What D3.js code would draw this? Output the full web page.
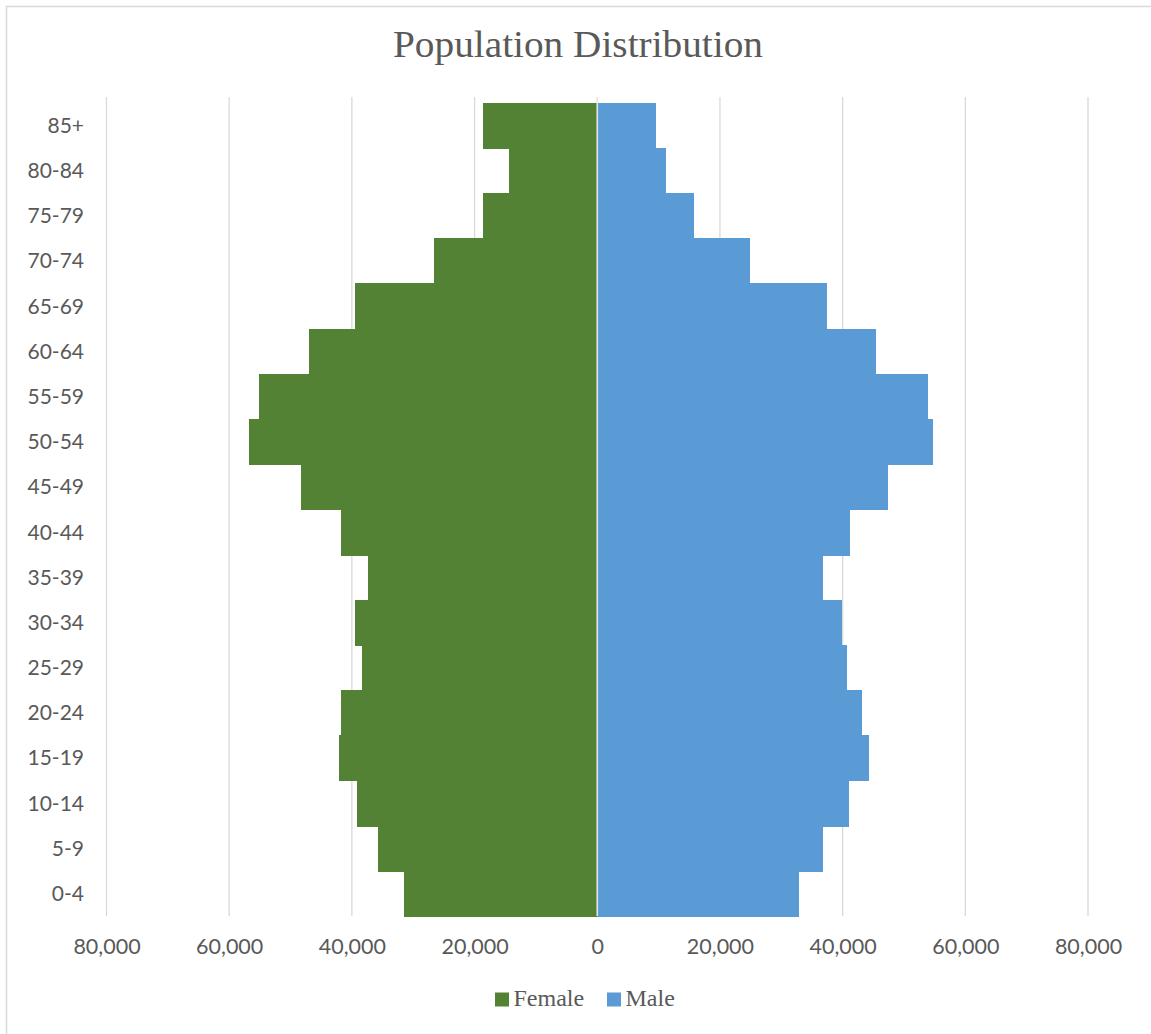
<!DOCTYPE html>
<html>
<head>
<meta charset="utf-8">
<script src="https://cdn.jsdelivr.net/npm/d3@7"></script>
<style>
  html, body { margin: 0; padding: 0; background: #ffffff; }
  svg { display: block; }
</style>
</head>
<body>
<svg id="chart" width="1151" height="1034"></svg>
<script>
// Age groups, youngest first
const categories = ["0-4", "5-9", "10-14", "15-19", "20-24", "25-29", "30-34", "35-39",
  "40-44", "45-49", "50-54", "55-59", "60-64", "65-69", "70-74", "75-79", "80-84", "85+"];

// Population counts per age group
const female = [31550, 35770, 39130, 42030, 41740, 38420, 39500, 37350,
  41800, 48330, 56710, 55080, 47030, 39470, 26590, 18550, 14400, 18600];
const male = [32820, 36750, 41120, 44330, 43160, 40650, 39960, 36810,
  41150, 47460, 54750, 53990, 45390, 37460, 24950, 15820, 11140, 9620];

// Axis ticks (female side plotted as negative values)
const xTicks = [-80000, -60000, -40000, -20000, 0, 20000, 40000, 60000, 80000];

const seriesNames = ["Female", "Male"];
const seriesColors = ["#548235", "#5b9bd5"];

const svg = d3.select("#chart");
const textColor = "#595959";
const gridColor = "#d9d9d9";
const sans = "Lato, 'Open Sans', sans-serif";
const serif = "'Liberation Serif', 'DejaVu Serif', serif";

// Chart frame
svg.append("rect")
  .attr("x", 6.5).attr("y", 6.5)
  .attr("width", 1160).attr("height", 1050)
  .attr("fill", "#ffffff")
  .attr("stroke", "#d9d9d9").attr("stroke-width", 1.5);

const x = d3.scaleLinear().domain([-80000, 80000]).range([106.5, 1088]);
const y = d3.scaleBand().domain(categories.slice().reverse()).range([102.7, 916]).padding(0);

// Title
svg.append("text")
  .attr("x", 578).attr("y", 57)
  .attr("text-anchor", "middle")
  .attr("font-family", serif)
  .attr("font-size", 37)
  .attr("fill", textColor)
  .attr("textLength", 370)
  .attr("lengthAdjust", "spacingAndGlyphs")
  .text("Population Distribution");

// Vertical gridlines (behind bars)
svg.append("g")
  .selectAll("line")
  .data(xTicks.filter(d => d !== 0))
  .join("line")
  .attr("x1", d => x(d)).attr("x2", d => x(d))
  .attr("y1", 97).attr("y2", 916)
  .attr("stroke", gridColor).attr("stroke-width", 1.3);

// Bars
const rows = categories.map((c, i) => ({ cat: c, female: female[i], male: male[i] }));

svg.append("g")
  .attr("shape-rendering", "crispEdges")
  .selectAll("rect")
  .data(rows)
  .join("rect")
  .attr("x", d => x(-d.female))
  .attr("y", d => y(d.cat))
  .attr("width", d => x(0) - x(-d.female))
  .attr("height", y.bandwidth() + 1)
  .attr("fill", seriesColors[0]);

svg.append("g")
  .attr("shape-rendering", "crispEdges")
  .selectAll("rect")
  .data(rows)
  .join("rect")
  .attr("x", x(0))
  .attr("y", d => y(d.cat))
  .attr("width", d => x(d.male) - x(0))
  .attr("height", y.bandwidth() + 1)
  .attr("fill", seriesColors[1]);

// Zero axis line on top of bars
svg.append("line")
  .attr("x1", x(0)).attr("x2", x(0))
  .attr("y1", 97).attr("y2", 916)
  .attr("stroke", "#e4e4e4").attr("stroke-width", 1.6);

// X axis labels
const xAxis = d3.axisBottom(x)
  .tickValues(xTicks)
  .tickSize(0)
  .tickPadding(0)
  .tickFormat(d => d3.format(",")(Math.abs(d)));

const gx = svg.append("g")
  .attr("transform", "translate(0,938)")
  .call(xAxis);
gx.select(".domain").remove();
gx.selectAll("text")
  .attr("font-family", sans)
  .attr("font-size", 21.5)
  .attr("fill", textColor)
  .attr("dy", "0.75em");

// Y axis labels
const yAxis = d3.axisLeft(y).tickSize(0).tickPadding(0);
const gy = svg.append("g")
  .attr("transform", "translate(84,0)")
  .call(yAxis);
gy.select(".domain").remove();
gy.selectAll("text")
  .attr("font-family", sans)
  .attr("font-size", 21)
  .attr("fill", textColor)
  .attr("dy", "0.36em");

// Legend
const legendItems = [
  { name: seriesNames[0], color: seriesColors[0], x: 495 },
  { name: seriesNames[1], color: seriesColors[1], x: 607 }
];
const legend = svg.append("g");
legend.selectAll("rect")
  .data(legendItems)
  .join("rect")
  .attr("x", d => d.x).attr("y", 992.5)
  .attr("width", 14).attr("height", 14)
  .attr("fill", d => d.color);
legend.selectAll("text")
  .data(legendItems)
  .join("text")
  .attr("x", d => d.x + 18.5).attr("y", 1006)
  .attr("font-family", serif)
  .attr("font-size", 24)
  .attr("fill", textColor)
  .text(d => d.name);
</script>
</body>
</html>
